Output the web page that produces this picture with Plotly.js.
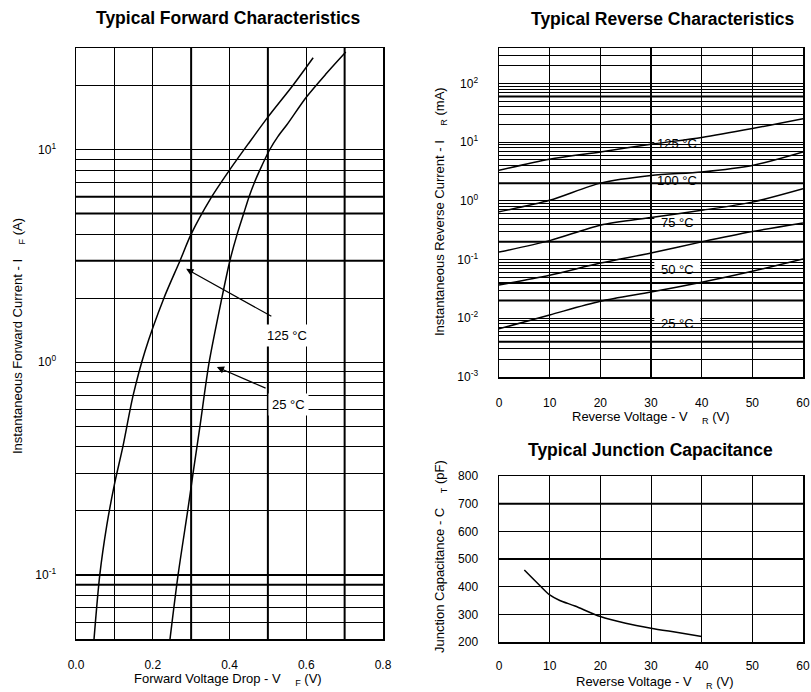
<!DOCTYPE html>
<html><head><meta charset="utf-8">
<script src="https://cdn.plot.ly/plotly-3.0.1.min.js"></script>
<style>html,body{margin:0;padding:0;background:#fff}#chart{width:811px;height:692px}</style>
</head><body><div id="chart"></div>
<script>
// ---------- Forward characteristics ----------
const fwdV125 = [0.047,0.062,0.08,0.1,0.122,0.149,0.18,0.229,0.271,0.3,0.35,0.4,0.45,0.5,0.565,0.618];
const fwdI125 = [0.05,0.1,0.17,0.266,0.4,0.7,1.13,2,3,4,5.85,8,10.7,14.2,20,27];
const fwdV25  = [0.245,0.266,0.291,0.305,0.323,0.347,0.38,0.401,0.42,0.437,0.451,0.465,0.479,0.505,0.526,0.55,0.6,0.65,0.703];
const fwdI25  = [0.05,0.1,0.2,0.3,0.5,1,2,3,4,5,6,7,8,10,11.5,13.1,17.6,22.5,28.7];
const fwdXTicks = [0,0.1,0.2,0.3,0.4,0.5,0.6,0.7,0.8];
const fwdXText  = ['0.0','','0.2','','0.4','','0.6','','0.8'];
const fwdYGrid  = [0.05,0.06,0.07,0.08,0.09,0.1,0.2,0.3,0.4,0.5,0.6,0.7,0.8,0.9,1,2,3,4,5,6,7,8,9,10,20];
const fwdYLabels = {0.1:'10<sup>-1</sup>',1:'10<sup>0</sup>',10:'10<sup>1</sup>'};
const fwdThickX = [0.3,0.5,0.7];
const fwdThickY = [0.09,0.1,3,5,6];
const fwdLabels = [{t:'125 °C', x:0.55, y:1.34, ax:0.513, ay:1.63, hx:0.287, hy:2.75},
                   {t:'25 °C',  x:0.553, y:0.63, ax:0.498, ay:0.75, hx:0.367, hy:0.95}];

// ---------- Reverse characteristics ----------
const revV = [0,10,20,30,40,50,60];
const rev125 = [3.3,5.1,6.8,9.2,12,17,25];
const rev100 = [0.65,1.02,2.0,2.7,3.1,4.0,6.8];
const rev75  = [0.134,0.21,0.385,0.52,0.69,0.95,1.6];
const rev50  = [0.037,0.054,0.087,0.129,0.20,0.30,0.42];
const rev25  = [0.0066,0.0114,0.0195,0.028,0.041,0.063,0.102];
const revXTicks = [0,10,20,30,40,50,60];
const revYGrid = [];
[0.001,0.01,0.1,1,10,100].forEach(d=>{for(let k=1;k<=9;k++){const v=+(k*d).toPrecision(3); if(v<=400) revYGrid.push(v);}});
const revYLabels = {0.001:'10<sup>-3</sup>',0.01:'10<sup>-2</sup>',0.1:'10<sup>-1</sup>',1:'10<sup>0</sup>',10:'10<sup>1</sup>',100:'10<sup>2</sup>'};
const revThickX = [30];
const revThickY = [0.004,0.02,0.04,0.2,2,60];
const revLabelText = ['125 °C','100 °C','75 °C','50 °C','25 °C'];
const revLabelV = [35.2,35.2,35.2,35.2,35.2];
const revLabelI = [9.6,2.2,0.42,0.069,0.0083];

// ---------- Junction capacitance ----------
const capV = [5,8,10,12,15,20,25,30,35,40];
const capC = [460,405,370,350,330,292,268,250,235,220];
const capXTicks = [0,10,20,30,40,50,60];
const capYTicks = [200,300,400,500,600,700,800];
const capThickY = [500,700];

const W=811,H=692;
const px = v=>v/W, py = v=>1-v/H;
const FAM = 'Liberation Sans, Arial, sans-serif';
const tickFont = {family:FAM, size:12, color:'#000'};
const lblFont = {family:FAM, size:13, color:'#000'};
const line = {color:'#000', width:1.5, shape:'spline', smoothing:0.8};

const traces = [
  {x:fwdV125, y:fwdI125, xaxis:'x', yaxis:'y', mode:'lines', line},
  {x:fwdV25, y:fwdI25, xaxis:'x', yaxis:'y', mode:'lines', line},
  {x:revV, y:rev125, xaxis:'x2', yaxis:'y2', mode:'lines', line},
  {x:revV, y:rev100, xaxis:'x2', yaxis:'y2', mode:'lines', line},
  {x:revV, y:rev75, xaxis:'x2', yaxis:'y2', mode:'lines', line},
  {x:revV, y:rev50, xaxis:'x2', yaxis:'y2', mode:'lines', line},
  {x:revV, y:rev25, xaxis:'x2', yaxis:'y2', mode:'lines', line},
  {x:capV, y:capC, xaxis:'x3', yaxis:'y3', mode:'lines', line}
];

const axBase = {showline:true, mirror:true, linecolor:'#000', linewidth:1.5, showgrid:true,
  gridcolor:'#000', gridwidth:1, zeroline:false, ticks:'', tickfont:tickFont, fixedrange:true, automargin:false};

const layout = {
  width:W, height:H, margin:{l:0,r:0,t:0,b:0}, showlegend:false,
  paper_bgcolor:'#fff', plot_bgcolor:'#fff',
  xaxis: Object.assign({}, axBase, {domain:[px(76),px(383)], range:[0,0.8], tickmode:'array',
     tickvals:fwdXTicks, ticktext:fwdXText, anchor:'y', ticklabelstandoff:14}),
  yaxis: Object.assign({}, axBase, {domain:[py(639),py(48)], type:'log', range:[Math.log10(0.05),Math.log10(30)],
     tickmode:'array', tickvals:fwdYGrid, ticktext:fwdYGrid.map(v=>fwdYLabels[v]||''), anchor:'x', ticklabelstandoff:16}),
  xaxis2: Object.assign({}, axBase, {domain:[px(499),px(803)], range:[0,60], tickmode:'array',
     tickvals:revXTicks, ticktext:revXTicks.map(String), anchor:'y2', ticklabelstandoff:14}),
  yaxis2: Object.assign({}, axBase, {domain:[py(377),py(48)], type:'log', range:[-3,Math.log10(400)],
     tickmode:'array', tickvals:revYGrid, ticktext:revYGrid.map(v=>revYLabels[v]||''), anchor:'x2', ticklabelstandoff:17}),
  xaxis3: Object.assign({}, axBase, {domain:[px(499),px(803)], range:[0,60], tickmode:'array',
     tickvals:capXTicks, ticktext:capXTicks.map(String), anchor:'y3', ticklabelstandoff:12}),
  yaxis3: Object.assign({}, axBase, {domain:[py(642),py(476)], range:[200,800], tickmode:'array',
     tickvals:capYTicks, ticktext:capYTicks.map(String), anchor:'x3', ticklabelstandoff:17}),
  shapes: [], annotations: []
};

const thick = {color:'#000', width:2};
fwdThickX.forEach(v=>layout.shapes.push({type:'line', xref:'x', yref:'y domain', x0:v, x1:v, y0:0, y1:1, line:thick, layer:'below'}));
fwdThickY.forEach(v=>layout.shapes.push({type:'line', xref:'x domain', yref:'y', x0:0, x1:1, y0:v, y1:v, line:thick, layer:'below'}));
revThickX.forEach(v=>layout.shapes.push({type:'line', xref:'x2', yref:'y2 domain', x0:v, x1:v, y0:0, y1:1, line:thick, layer:'below'}));
revThickY.forEach(v=>layout.shapes.push({type:'line', xref:'x2 domain', yref:'y2', x0:0, x1:1, y0:v, y1:v, line:thick, layer:'below'}));
capThickY.forEach(v=>layout.shapes.push({type:'line', xref:'x3 domain', yref:'y3', x0:0, x1:1, y0:v, y1:v, line:thick, layer:'below'}));

revLabelText.forEach((t,i)=>{
  layout.shapes.push({type:'rect', xref:'x2', yref:'y2', xsizemode:'pixel', ysizemode:'pixel',
    xanchor:revLabelV[i], yanchor:revLabelI[i], x0:-23, x1:23, y0:-8, y1:8,
    fillcolor:'#fff', line:{width:0}, layer:'between'});
  layout.annotations.push({xref:'x2', yref:'y2', x:revLabelV[i], y:Math.log10(revLabelI[i]), text:t,
    showarrow:false, font:{family:FAM, size:13, color:'#000'}});
});

fwdLabels.forEach(l=>{
  layout.annotations.push({xref:'x', yref:'y', x:l.hx, y:Math.log10(l.hy), axref:'x', ayref:'y',
    ax:l.ax, ay:Math.log10(l.ay), text:'', showarrow:true, arrowhead:2, arrowsize:1.2, arrowwidth:1.2, arrowcolor:'#000', standoff:0});
  layout.annotations.push({xref:'x', yref:'y', x:l.x, y:Math.log10(l.y), text:l.t, showarrow:false,
    bgcolor:'#fff', borderpad:3, font:{family:FAM, size:13, color:'#000'}});
});

const titleFont = {family:FAM, size:17.5, color:'#000'};
const pa = (x,y,text,font,angle)=>({xref:'paper', yref:'paper', x:px(x), y:py(y), text, showarrow:false,
  xanchor:'center', yanchor:'middle', font, textangle:angle||0});
layout.annotations.push(
  pa(228,18,'<b>Typical Forward Characteristics</b>',titleFont),
  pa(663,19,'<b>Typical Reverse Characteristics</b>',titleFont),
  pa(650,450,'<b>Typical Junction Capacitance</b>',titleFont),
  pa(18,336,'Instantaneous Forward Current - I    <sub>F</sub> (A)',lblFont,-90),
  pa(228,679,'Forward Voltage Drop - V    <sub>F</sub> (V)',lblFont),
  pa(440,212,'Instantaneous Reverse Current - I    <sub>R</sub> (mA)',lblFont,-90),
  pa(651,417,'Reverse Voltage - V    <sub>R</sub> (V)',lblFont),
  pa(440,557,'Junction Capacitance - C    <sub>T</sub> (pF)',lblFont,-90),
  pa(655,682,'Reverse Voltage - V    <sub>R</sub> (V)',lblFont)
);

Plotly.newPlot('chart', traces, layout, {displayModeBar:false, staticPlot:true});
</script></body></html>
